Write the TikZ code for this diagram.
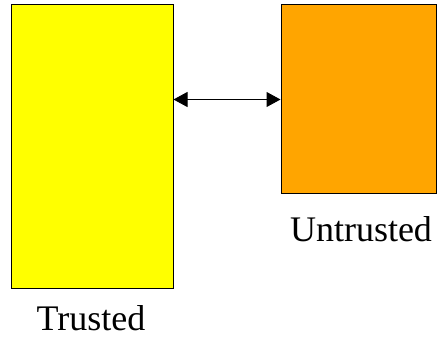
\documentclass[tikz,border=0pt]{standalone}
\usepackage{fontspec}
\setmainfont{Liberation Serif}
\usetikzlibrary{arrows.meta}
\definecolor{trustyellow}{RGB}{255,255,0}
\definecolor{untrustorange}{RGB}{255,165,0}

\begin{document}
\begin{tikzpicture}[x=1pt,y=1pt,
  zone/.style={draw=black,line width=1pt,minimum width=#1,inner sep=0pt},
  zonelabel/.style={anchor=base,inner sep=0pt,font=\fontsize{36}{42}\selectfont}]
 \useasboundingbox (0,0) rectangle (437,339);
 \node[zone=162pt,fill=trustyellow,minimum height=284pt](trusted) at (92,192) {};
 \node[zone=155pt,fill=untrustorange,minimum height=189pt](untrusted) at (358.5,239.5) {};
 \node[zonelabel](trustedlabel) at (91,8.5) {Trusted};
 \node[zonelabel](untrustedlabel) at (361,97) {Untrusted};
 \draw[line width=1pt,{Triangle[length=14pt,width=15pt]}-{Triangle[length=14pt,width=15pt]}]
  (trusted.east |- untrusted.west) -- (untrusted.west);
\end{tikzpicture}
\end{document}
